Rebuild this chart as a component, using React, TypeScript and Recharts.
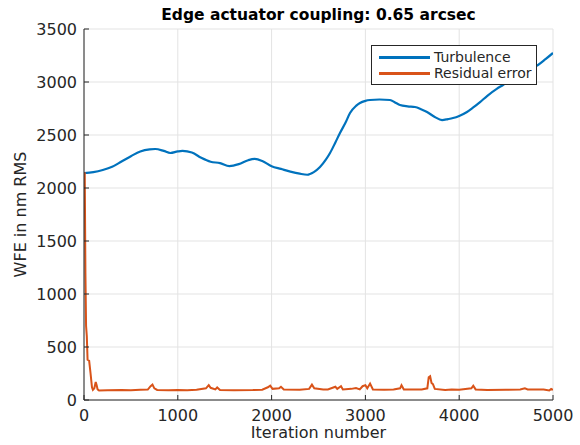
import { LineChart, Line, XAxis, YAxis, CartesianGrid, Legend } from 'recharts';

const turbIter = [
  0, 100, 200, 300, 400, 500, 600, 700, 760, 850, 920, 1000, 1050, 1150, 1250, 1350, 1450,
  1550, 1650, 1750, 1820, 1900, 2000, 2100, 2200, 2300, 2380, 2450, 2516, 2580, 2623, 2680,
  2729, 2790, 2836, 2900, 2942, 3000, 3049, 3150, 3262, 3320, 3369, 3450, 3529, 3600, 3657,
  3740, 3817, 3880, 3934, 4000, 4083, 4150, 4222, 4300, 4400, 4467, 4550, 4650, 4750, 4840,
  4920, 5000,
];
const turbulence = [
  2140, 2150, 2170, 2200, 2250, 2300, 2345, 2365, 2368, 2350, 2330, 2345, 2350, 2335, 2285, 2248, 2235,
  2207, 2225, 2262, 2274, 2255, 2205, 2180, 2155, 2135, 2125, 2150, 2198, 2270, 2330, 2430,
  2519, 2620, 2708, 2775, 2802, 2822, 2830, 2835, 2830, 2805, 2783, 2770, 2764, 2740, 2717,
  2670, 2641, 2650, 2660, 2680, 2717, 2760, 2811, 2870, 2935, 2972, 3020, 3075, 3120, 3160,
  3215, 3274,
];

const residIter = [
  0, 8, 15, 22, 30, 38, 55, 70, 85, 95, 110, 125, 135, 145, 160, 250, 400, 500, 600, 680,
  710, 730, 750, 780, 900, 1000, 1100, 1200, 1300, 1330, 1350, 1400, 1420, 1450, 1600, 1800,
  1900, 1960, 1985, 2010, 2080, 2100, 2130, 2300, 2400, 2430, 2455, 2550, 2600, 2680, 2700,
  2740, 2760, 2850, 2900, 2940, 2970, 3000, 3020, 3050, 3080, 3200, 3300, 3370, 3385, 3410,
  3500, 3600, 3660, 3675, 3690, 3705, 3720, 3740, 3850, 3920, 4000, 4130, 4150, 4175, 4300,
  4500, 4650, 4700, 4730, 4900, 4960, 4980, 5000,
];
const residual = [
  2140, 2140, 1200, 700, 600, 380, 370, 250, 120, 95, 110, 170, 140, 100, 90, 92, 95, 92, 96, 98,
  130, 145, 110, 95, 92, 95, 93, 96, 110, 140, 115, 100, 118, 95, 92, 94,
  97, 120, 135, 105, 110, 125, 100, 96, 105, 145, 110, 98, 100, 125, 105,
  130, 100, 105, 112, 100, 130, 140, 110, 155, 100, 97, 100, 110, 140, 100,
  98, 100, 110, 215, 225, 160, 150, 105, 95, 100, 96, 110, 135, 100, 95,
  97, 100, 110, 100, 98, 90, 105, 95,
];

const xTicks = [0, 1000, 2000, 3000, 4000, 5000];
const yTicks = [0, 500, 1000, 1500, 2000, 2500, 3000, 3500];

const turbData = turbIter.map((it, i) => ({ iter: it, value: turbulence[i] }));
const residData = residIter.map((it, i) => ({ iter: it, value: residual[i] }));

const AXIS = '#262626';
const FONT = '"DejaVu Sans", sans-serif';
const TICK_LEN = 5;

const BottomTick = ({ x, y, payload }: any) => (
  <g>
    <line x1={x} x2={x} y1={y - 9} y2={y - 9 - TICK_LEN} stroke={AXIS} />
    <text x={x} y={y} dy="0.72em" textAnchor="middle" fill={AXIS} fontSize={16} fontFamily={FONT}>
      {payload.value}
    </text>
  </g>
);

const LeftTick = ({ x, y, payload }: any) => (
  <g>
    <line x1={x + 7} x2={x + 7 + TICK_LEN} y1={y} y2={y} stroke={AXIS} />
    <text x={x} y={y} dy="0.36em" textAnchor="end" fill={AXIS} fontSize={16} fontFamily={FONT}>
      {payload.value}
    </text>
  </g>
);

const TopTick = ({ x, y }: any) => <line x1={x} x2={x} y1={y} y2={y + TICK_LEN} stroke={AXIS} />;
const RightTick = ({ x, y }: any) => <line x1={x - TICK_LEN} x2={x} y1={y} y2={y} stroke={AXIS} />;

const LegendBox = () => (
  <div
    style={{
      width: 164,
      height: 35,
      border: `1px solid ${AXIS}`,
      background: '#fff',
      fontFamily: FONT,
      fontSize: 14,
      color: AXIS,
      paddingTop: 3,
      boxSizing: 'content-box',
    }}
  >
    {[
      { name: 'Turbulence', color: '#0072BD' },
      { name: 'Residual error', color: '#D95319' },
    ].map((item) => (
      <div key={item.name} style={{ display: 'flex', alignItems: 'center', height: 16, lineHeight: '16px' }}>
        <div style={{ width: 51, height: 3, background: item.color, marginLeft: 7, marginRight: 4 }} />
        <span>{item.name}</span>
      </div>
    ))}
  </div>
);

export default function App() {
  return (
    <div style={{ position: 'absolute', left: 0, top: 0, width: 580, height: 445, background: '#fff' }}>
      <div
        style={{
          position: 'absolute',
          left: 84,
          width: 469,
          top: 5,
          textAlign: 'center',
          fontFamily: FONT,
          fontWeight: 'bold',
          fontSize: 15.5,
          lineHeight: '20px',
          color: '#000',
          zIndex: 2,
        }}
      >
        Edge actuator coupling: 0.65 arcsec
      </div>
      <LineChart width={580} height={445} margin={{ top: 29, right: 27, left: 0, bottom: 0 }}>
        <CartesianGrid stroke="#e3e3e3" strokeWidth={1} />
        <XAxis
          dataKey="iter"
          type="number"
          domain={[0, 5000]}
          ticks={xTicks}
          height={45}
          tickSize={0}
          tickMargin={9}
          tick={<BottomTick />}
          axisLine={{ stroke: AXIS }}
          allowDataOverflow
          label={{
            content: ({ viewBox }: any) => (
              <text
                x={viewBox.x + viewBox.width / 2}
                y={438}
                textAnchor="middle"
                fill={AXIS}
                fontSize={16}
                fontFamily={FONT}
              >
                Iteration number
              </text>
            ),
          }}
        />
        <XAxis
          xAxisId="top"
          orientation="top"
          type="number"
          domain={[0, 5000]}
          ticks={xTicks}
          height={0}
          tickSize={0}
          tickMargin={0}
          tick={<TopTick />}
          axisLine={{ stroke: AXIS }}
          allowDataOverflow
        />
        <YAxis
          type="number"
          domain={[0, 3500]}
          ticks={yTicks}
          width={84}
          tickSize={0}
          tickMargin={7}
          tick={<LeftTick />}
          axisLine={{ stroke: AXIS }}
          allowDataOverflow
          label={{
            content: ({ viewBox }: any) => {
              const cy = viewBox.y + viewBox.height / 2;
              return (
                <text
                  x={26}
                  y={cy}
                  transform={`rotate(-90, 26, ${cy})`}
                  textAnchor="middle"
                  fill={AXIS}
                  fontSize={16}
                  fontFamily={FONT}
                >
                  WFE in nm RMS
                </text>
              );
            },
          }}
        />
        <YAxis
          yAxisId="right"
          orientation="right"
          type="number"
          domain={[0, 3500]}
          ticks={yTicks}
          width={0}
          tickSize={0}
          tickMargin={0}
          tick={<RightTick />}
          axisLine={{ stroke: AXIS }}
          allowDataOverflow
        />
        <Legend
          layout="vertical"
          verticalAlign="middle"
          align="center"
          content={<LegendBox />}
          wrapperStyle={{ top: 45, left: 371, width: 'auto' }}
        />
        <Line
          data={turbData}
          dataKey="value"
          name="Turbulence"
          type="monotone"
          stroke="#0072BD"
          strokeWidth={2.2}
          dot={false}
          activeDot={false}
          isAnimationActive={false}
        />
        <Line
          data={residData}
          dataKey="value"
          name="Residual error"
          type="linear"
          stroke="#D95319"
          strokeWidth={2}
          dot={false}
          activeDot={false}
          isAnimationActive={false}
        />
      </LineChart>
    </div>
  );
}
